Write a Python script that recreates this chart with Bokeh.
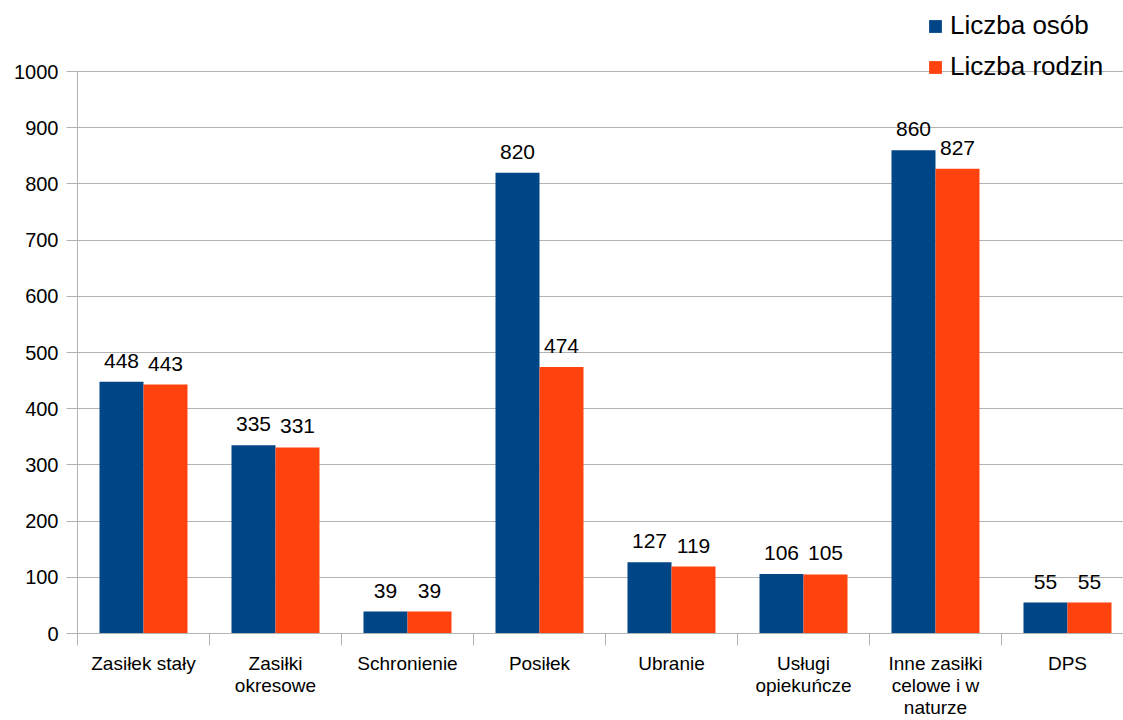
import numpy as np
from bokeh.plotting import figure
from bokeh.models import ColumnDataSource, Range1d, FixedTicker, Legend, LegendItem
from bokeh.transform import dodge
from bokeh.core.properties import value
from bokeh.embed import file_html
from bokeh.resources import INLINE

categories = ["Zasiłek stały", "Zasiłki\nokresowe", "Schronienie", "Posiłek", "Ubranie",
              "Usługi\nopiekuńcze", "Inne zasiłki\ncelowe i w\nnaturze", "DPS"]
liczba_osob = [448, 335, 39, 820, 127, 106, 860, 55]
liczba_rodzin = [443, 331, 39, 474, 119, 105, 827, 55]
series_names = ["Liczba osób", "Liczba rodzin"]
y_ticks = list(range(0, 1001, 100))

FONT = "Liberation Sans"
BLUE = "#004586"
ORANGE = "#ff420e"
GRID = "#b3b3b3"

W, H = 1123, 720
LEFT, BOTTOM = 77, 87
PX_PER_UNIT = 562 / 1000   # 1000 units span 562 px
CAT_PX = 132               # width of one category in px

pos = np.arange(len(categories)) + 0.5
src = ColumnDataSource(dict(
    pos=pos,
    osob=liczba_osob,
    rodzin=liczba_rodzin,
    osob_t=[str(v) for v in liczba_osob],
    rodzin_t=[str(v) for v in liczba_rodzin],
))

p = figure(width=W, height=H, output_backend="svg", toolbar_location=None,
           x_range=Range1d(0, (W - LEFT) / CAT_PX),
           y_range=Range1d(0, (H - BOTTOM) / PX_PER_UNIT),
           min_border_left=LEFT, min_border_right=0, min_border_top=0, min_border_bottom=BOTTOM)
p.outline_line_color = None
p.background_fill_color = "white"

bw = 1 / 3
r1 = p.vbar(x=dodge("pos", -bw / 2), top="osob", width=bw, source=src,
            fill_color=BLUE, line_color=None)
r2 = p.vbar(x=dodge("pos", bw / 2), top="rodzin", width=bw, source=src,
            fill_color=ORANGE, line_color=None)

for field, tfield, off in (("osob", "osob_t", -bw / 2), ("rodzin", "rodzin_t", bw / 2)):
    p.text(x=dodge("pos", off), y=field, text=tfield, source=src,
           text_align="center", text_baseline="alphabetic", y_offset=-21,
           text_font=value(FONT), text_font_size="21px", text_color="black")

# y axis
p.yaxis.ticker = FixedTicker(ticks=y_ticks)
p.yaxis.bounds = (0, 1000)
p.yaxis.axis_line_color = GRID
p.yaxis.major_tick_line_color = GRID
p.yaxis.major_tick_out = 11
p.yaxis.major_tick_in = 0
p.yaxis.minor_tick_line_color = None
p.yaxis.major_label_standoff = 8
p.yaxis.major_label_text_font = FONT
p.yaxis.major_label_text_font_size = "20px"
p.yaxis.major_label_text_color = "black"

# x axis
p.xaxis.ticker = FixedTicker(ticks=list(pos), minor_ticks=list(range(len(categories) + 1)))
p.xaxis.major_label_overrides = {float(x): c for x, c in zip(pos, categories)}
p.xaxis.axis_line_color = GRID
p.xaxis.major_tick_line_color = None
p.xaxis.major_tick_out = 0
p.xaxis.major_tick_in = 0
p.xaxis.minor_tick_line_color = GRID
p.xaxis.minor_tick_out = 12
p.xaxis.minor_tick_in = 0
p.xaxis.major_label_standoff = 7
p.xaxis.major_label_text_font = FONT
p.xaxis.major_label_text_font_size = "19px"
p.xaxis.major_label_text_line_height = 1.05
p.xaxis.major_label_text_color = "black"

p.xgrid.visible = False
p.ygrid.ticker = FixedTicker(ticks=y_ticks)
p.ygrid.grid_line_color = GRID

legend = Legend(items=[LegendItem(label=series_names[0], renderers=[r1]),
                       LegendItem(label=series_names[1], renderers=[r2])],
                location=(850, 551), orientation="vertical",
                glyph_width=16, glyph_height=16, label_height=30, spacing=10,
                padding=0, margin=0, label_standoff=7,
                border_line_color=None, background_fill_alpha=0,
                label_text_font=FONT, label_text_font_size="26px", label_text_color="black")
p.add_layout(legend)

open("out.html", "w").write(file_html(p, INLINE))
